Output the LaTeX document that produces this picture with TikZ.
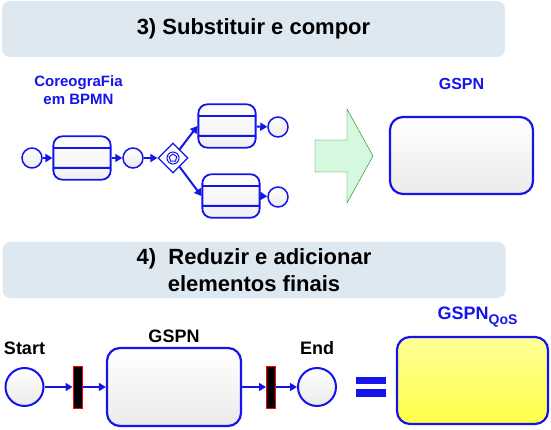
\documentclass[tikz,border=0pt]{standalone}
\usepackage{fontspec}
\setmainfont{Liberation Sans}
\usetikzlibrary{shapes,arrows.meta,positioning}

\definecolor{bpmnblue}{RGB}{20,20,235}
\definecolor{bannerfill}{RGB}{222,232,241}
\definecolor{arrowfill}{RGB}{214,248,222}
\definecolor{arrowline}{RGB}{10,130,10}
\definecolor{qosyellow}{RGB}{255,255,70}

\begin{document}
\begin{tikzpicture}[x=1pt,y=-1pt,
  every node/.style={font=\bfseries, inner sep=0pt},
  banner/.style={fill=bannerfill, rounded corners=8pt, minimum width=503pt, minimum height=56pt,
    align=center, font=\bfseries\fontsize{22}{27}\selectfont},
  place/.style={circle, draw=bpmnblue, line width=#1, top color=white, bottom color=black!8},
  place/.default=1.5pt,
  task/.style={shape=rectangle split, rectangle split parts=3, draw=bpmnblue, line width=1.8pt,
    rounded corners=9pt, top color=white, bottom color=black!6, minimum width=52pt,
    rectangle split empty part width=52pt, rectangle split empty part height=10pt,
    rectangle split empty part depth=0pt},
  netbox/.style={draw=bpmnblue, line width=2.2pt, rounded corners=13pt},
  trans/.style={fill=black, draw=red, line width=1pt, minimum width=9pt, minimum height=42pt},
  flow/.style={draw=bpmnblue, line width=1.6pt, -{Triangle[length=7pt,width=8pt]}},
  label/.style={text=bpmnblue}]
\useasboundingbox (0,0) rectangle (551,430);

% step 3
\node[banner] (step3) at (253.5,29) {3) Substituir e compor};
\node[label, align=center, font=\bfseries\fontsize{15}{18}\selectfont] (chor) at (78.5,90) {CoreograFia\\em BPMN};
\node[place, minimum size=20pt] (s0) at (32,158) {};
\node[task] (task1) at (82,158) {\nodepart{second}\rule{0pt}{18pt}\nodepart{third}};
\node[place, minimum size=20pt] (s1) at (133,158) {};
\node[diamond, draw=bpmnblue, line width=1.2pt, fill=white, minimum size=30pt] (gw) at (173,158) {};
\node[circle, draw=bpmnblue, line width=1pt, minimum size=12pt] (gwring) at (gw) {};
\node[regular polygon, regular polygon sides=5, draw=bpmnblue, line width=1pt, minimum size=8pt] (gwpent) at (gw) {};
\node[task] (task2) at (227,126) {\nodepart{second}\rule{0pt}{18pt}\nodepart{third}};
\node[task] (task3) at (231,196) {\nodepart{second}\rule{0pt}{18pt}\nodepart{third}};
\node[place, minimum size=20pt] (e2) at (278,127) {};
\node[place, minimum size=20pt] (e3) at (278,197) {};
\draw[flow, line width=2pt] (s0) -- (task1);
\draw[flow, line width=2pt] (task1) -- (s1);
\draw[flow, line width=2pt] (s1) -- (gw);
\draw[flow, line width=2pt] (gw) -- (task2.west);
\draw[flow, line width=2pt] (gw) -- (task3.west);
\draw[flow, line width=2pt] (task2) -- (e2);
\draw[flow, line width=2pt] (task3.east) -- (e3);

\draw[draw=arrowline, fill=arrowfill] (315,140) -- (347,140) -- (347,109) -- (373,156)
  -- (347,203) -- (347,172) -- (315,172) -- cycle;
\node[netbox, top color=white, bottom color=black!8, minimum width=143pt, minimum height=77pt] (gspnA) at (461.5,155.5) {};
\node[label, font=\bfseries\fontsize{16}{16}\selectfont, above=26pt of gspnA] (gspnAlbl) {GSPN};

% step 4
\node[banner] (step4) at (254,270) {4)~~Reduzir e adicionar\\elementos finais};
\node[place=2pt, minimum size=38pt] (bstart) at (24.5,387) {};
\node[font=\bfseries\fontsize{18}{18}\selectfont, above=12pt of bstart] (startlbl) {Start};
\node[trans] (t1) at (77.5,387) {};
\node[netbox, top color=white, bottom color=black!8, minimum width=134pt, minimum height=78pt] (gspnB) at (174,387) {};
\node[font=\bfseries\fontsize{18}{18}\selectfont, above=4.5pt of gspnB] (gspnBlbl) {GSPN};
\node[trans] (t2) at (271,387) {};
\node[place=2pt, minimum size=38pt] (bend) at (317,387) {};
\node[font=\bfseries\fontsize{18}{18}\selectfont, above=12pt of bend] (endlbl) {End};
\draw[flow] (bstart) -- (t1);
\draw[flow] (t1) -- (gspnB);
\draw[flow] (gspnB) -- (t2);
\draw[flow] (t2) -- (bend);

\fill[bpmnblue] (356,377) rectangle (386,384);
\fill[bpmnblue] (356,389) rectangle (386,397);
\node[netbox, top color=qosyellow!55, bottom color=qosyellow, minimum width=151pt, minimum height=87pt] (qos) at (472.5,380.5) {};
\node[label, font=\bfseries\fontsize{18}{18}\selectfont, above=8pt of qos, xshift=5pt] (qoslbl)
  {GSPN\raisebox{-5pt}{\fontsize{14}{14}\selectfont QoS}};
\end{tikzpicture}
\end{document}
